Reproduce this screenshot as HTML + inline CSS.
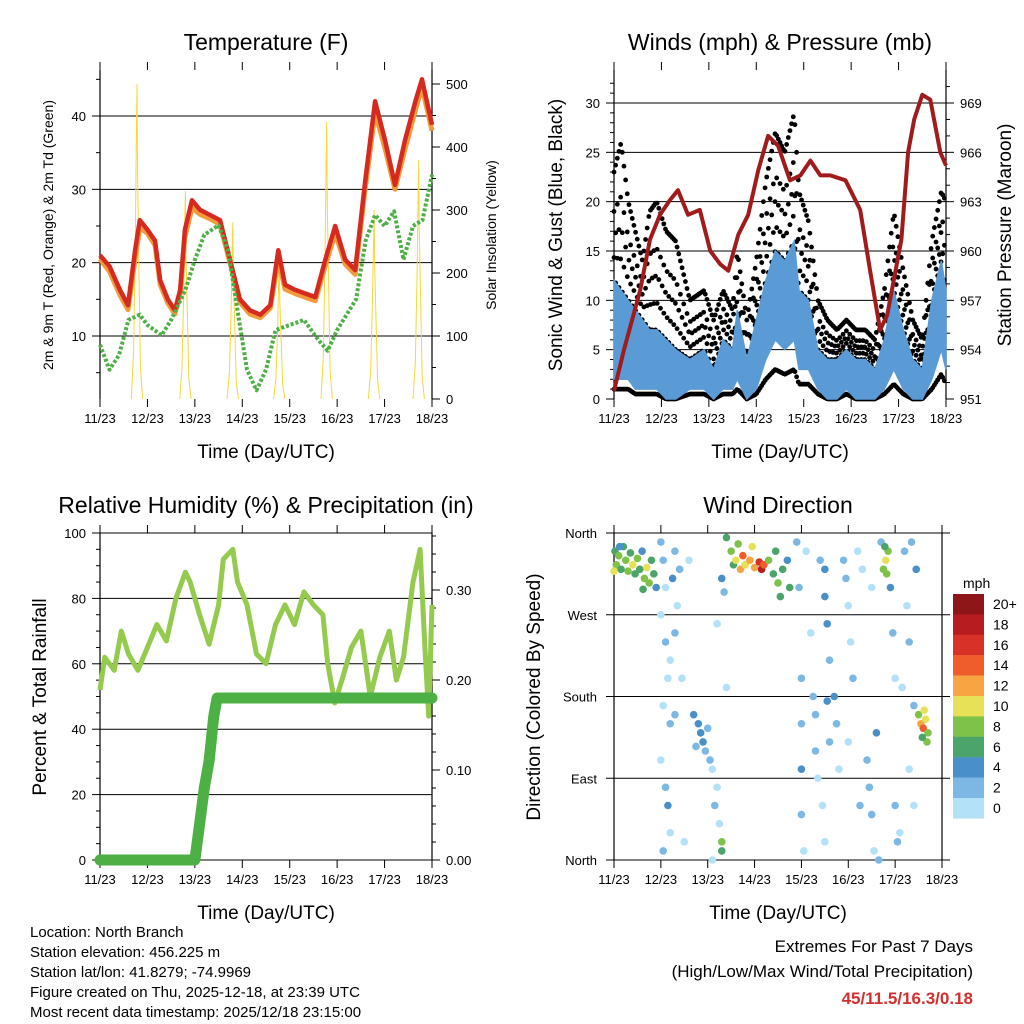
<!DOCTYPE html>
<html><head><meta charset="utf-8"><style>
html,body{margin:0;padding:0;background:#fff}
svg{display:block;font-family:"Liberation Sans",Arial,sans-serif}
</style></head><body>
<svg id="s" width="1024" height="1024" viewBox="0 0 1024 1024" xmlns="http://www.w3.org/2000/svg">
<g id="g"></g>
<g font-size="15" fill="#000">
<text x="30" y="937">Location: North Branch</text>
<text x="30" y="957">Station elevation: 456.225 m</text>
<text x="30" y="977">Station lat/lon: 41.8279; -74.9969</text>
<text x="30" y="997">Figure created on Thu, 2025-12-18, at 23:39 UTC</text>
<text x="30" y="1017">Most recent data timestamp: 2025/12/18 23:15:00</text>
</g>
<g text-anchor="end" font-size="17">
<text x="973" y="952">Extremes For Past 7 Days</text>
<text x="973" y="977">(High/Low/Max Wind/Total Precipitation)</text>
<text x="973" y="1004" fill="#d32f2f" font-weight="bold">45/11.5/16.3/0.18</text>
</g>
</svg>
<script>
// ---------- DATA ----------
const dayLabels=["11/23","12/23","13/23","14/23","15/23","16/23","17/23","18/23"];
const tempDays=[0,0.2,0.42,0.59,0.74,0.84,1.0,1.16,1.27,1.43,1.58,1.69,1.79,1.94,2.11,2.32,2.53,2.74,2.95,3.16,3.38,3.59,3.76,3.9,4.11,4.54,4.75,4.96,5.17,5.38,5.59,5.8,6.01,6.22,6.43,6.65,6.79,7.0];
const temp2m=[21,19.5,16.3,14.2,21.7,25.8,24.5,23,17.6,15,13.5,16.3,24.5,28.5,27.2,26.5,25.8,20.4,15,13.5,12.9,14.2,21.7,17,16.3,15.3,20.4,25,20.4,19,31,42,36.7,30.6,36.7,42,45,38.8];
const temp9m=[20.5,18.8,15.6,13.6,20.5,24.8,24,22.4,17,14.5,13,15.8,23.5,27.5,26.6,26,25.2,20,14.6,13,12.5,13.8,20.5,16.4,15.8,14.8,19.6,24,19.8,18.4,30,40.5,35.6,30,35.5,40.8,44,38];
const dewDays=[0,0.2,0.4,0.6,0.84,1.0,1.3,1.5,1.8,2.0,2.2,2.5,2.7,2.9,3.1,3.3,3.5,3.7,4.0,4.3,4.6,4.8,5.0,5.2,5.4,5.6,5.8,6.0,6.2,6.4,6.6,6.8,7.0];
const dew2m=[8.8,5.4,7.4,12.2,12.9,11.5,10.1,12.2,16.3,20.4,23.8,25.1,21.7,13.5,5.4,2.6,5.4,10.8,11.5,12.2,9.5,8,10.8,12.9,15,23,26.5,25,27,20.4,25,25.8,32];
const solarPeakDays=[0.78,1.8,2.8,3.78,4.78,5.78,6.72];
const solarPeaks=[500,330,280,220,440,300,380];
const presDays=[0,0.21,0.55,0.76,0.97,1.18,1.35,1.56,1.81,2.03,2.24,2.41,2.62,2.83,3.04,3.25,3.46,3.71,3.93,4.14,4.35,4.56,4.88,5.19,5.4,5.61,5.76,6.06,6.2,6.33,6.5,6.67,6.88,7.0];
const pressure=[951.5,954,957.6,960.7,962.2,963.1,963.7,962.2,962.5,960,959.2,958.8,961,962.2,964.9,967,966.4,964.3,964.6,965.5,964.6,964.6,964.3,962.5,958.8,955.2,956.1,960.7,966,968,969.5,969.2,966,965.2];
const windDays=[0,0.15,0.3,0.45,0.6,0.75,0.9,1.1,1.3,1.6,1.9,2.1,2.3,2.5,2.6,2.8,3.0,3.2,3.4,3.6,3.8,3.9,4.1,4.3,4.5,4.7,4.9,5.1,5.3,5.5,5.7,5.9,6.1,6.3,6.5,6.7,6.9,7.0];
const windHigh=[12,11,10,9,8,7,7,6,5,4,5,3,6,5,9,4,8,12,15,14,16,11,10,5,4,4,5,4,4,3,6,11,7,4,3,10,14,11];
const windLow=[2,2,2,1,1,1,1,0,0,1,1,0,1,1,2,0,1,4,6,5,6,3,3,1,0,0,1,0,0,0,1,3,1,0,0,2,5,3];
const windGust=[23,26,20,17,14,19,20,17,16,10,11,8,11,9,15,8,14,22,27,25,29,21,18,10,8,7,8,7,7,6,11,19,13,8,6,16,21,20];
const rhDays=[0,0.1,0.3,0.45,0.6,0.8,1.0,1.2,1.4,1.6,1.8,1.9,2.1,2.3,2.5,2.6,2.8,2.9,3.1,3.3,3.5,3.7,3.9,4.1,4.3,4.5,4.7,4.8,4.95,5.1,5.3,5.5,5.7,5.9,6.1,6.25,6.4,6.6,6.75,6.85,6.93,7.0];
const rh=[52,62,58,70,63,58,65,72,67,80,88,85,75,66,78,92,95,85,78,63,60,72,78,72,82,78,75,60,48,55,65,70,50,62,70,55,62,85,95,65,44,78];
const precipDays=[0,2.0,2.1,2.2,2.3,2.4,2.47,7.0];
const precip=[0,0,0.04,0.08,0.11,0.16,0.18,0.18];
const dirDays=[0.02,0.05,0.1,0.15,0.2,0.25,0.3,0.35,0.4,0.45,0.5,0.55,0.6,0.65,0.7,0.75,0.8,0.85,0.9,0.0,0.12,0.62,
1.0,1.05,1.1,1.0,1.1,1.15,1.05,1.2,1.0,1.1,1.15,1.2,1.05,1.3,1.25,1.35,1.3,1.4,1.45,1.5,1.2,1.3,
1.7,1.8,1.85,1.9,1.95,2.0,2.05,2.1,1.75,2.2,2.15,2.25,2.3,2.3,2.1,1.6,2.3,2.35,2.2,2.4,
2.4,2.5,2.55,2.6,2.7,2.75,2.8,2.9,3.0,3.1,3.15,3.2,3.3,3.4,3.5,3.6,3.7,3.75,2.95,2.65,3.45,3.55,
3.9,3.95,4.0,4.0,4.0,4.0,4.05,4.1,4.2,4.25,4.3,4.3,4.35,4.4,4.5,4.5,4.55,4.6,4.55,4.6,4.45,4.5,4.7,4.75,4.8,4.9,4.95,5.0,5.05,5.1,5.0,5.2,5.3,5.25,5.4,5.45,5.5,5.55,5.6,5.5,5.65,5.7,5.75,5.8,5.85,5.9,5.95,6.0,5.82,5.78,
6.1,6.2,6.25,6.3,6.3,6.4,6.5,6.55,6.6,6.65,6.7,6.62,6.68,6.58,6.4,6.35,6.45,6.0,6.05,6.15];
const dirDeg=[340,325,335,320,345,330,318,338,325,315,332,320,340,310,322,305,330,315,300,318,345,298,
350,330,300,270,240,200,170,150,110,80,60,30,10,340,310,280,250,320,200,20,220,160,
160,150,140,130,120,145,110,100,125,80,60,40,20,10,0,330,310,295,260,190,
355,340,325,330,320,335,325,330,322,328,320,325,330,315,305,320,330,300,345,348,340,290,
350,300,200,150,100,50,10,340,250,180,160,120,90,330,320,290,260,220,175,130,60,20,180,150,100,330,310,280,240,200,130,340,320,60,110,80,50,10,140,300,0,350,320,330,340,300,250,200,315,345,
30,340,280,240,100,170,160,150,145,155,140,165,130,135,60,350,320,60,20,190];
const dirSpeed=[7,8,9,7,6,8,9,7,10,6,8,7,5,9,10,8,6,7,5,11,4,6,
2,3,1,1,2,1,1,3,0,2,4,1,3,2,4,1,3,2,1,1,1,2,
4,5,4,5,3,3,2,1,2,1,2,1,8,7,1,1,4,3,1,1,
7,8,7,10,12,14,11,12,13,16,18,14,8,7,8,6,5,7,10,9,6,7,
3,2,2,3,4,2,1,1,1,2,3,3,1,2,4,5,4,3,4,2,1,1,5,3,1,3,2,1,1,2,1,1,1,2,3,2,2,1,4,1,3,2,8,10,9,4,3,1,9,7,
1,2,1,2,1,3,8,12,14,10,9,10,8,6,1,2,4,3,2,1];
const speedLabels=["20+","18","16","14","12","10","8","6","4","2","0"];
const speedColors=["#8e1518","#b71c21","#d83228","#ef5e2a","#f7a443","#e6e157","#7fc24a","#4ba56a","#4a90c8","#7db8e4","#b3e1f7"];

// ---------- RENDER ----------
const NS="http://www.w3.org/2000/svg";
const root=document.getElementById('g');
function mk(tag,attrs,parent){const e=document.createElementNS(NS,tag);for(const k in attrs)e.setAttribute(k,attrs[k]);(parent||root).appendChild(e);return e;}
function txt(x,y,s,attrs,parent){const e=mk('text',Object.assign({x:x,y:y},attrs),parent);e.textContent=s;return e;}
function lin(d0,d1,p0,p1){return v=>p0+(v-d0)/(d1-d0)*(p1-p0);}
function path(xs,ys,fx,fy){return xs.map((d,i)=>(i?'L':'M')+fx(d).toFixed(1)+','+fy(ys[i]).toFixed(1)).join('');}
function interp(xs,ys,t){for(let i=1;i<xs.length;i++){if(t<=xs[i]){const f=(t-xs[i-1])/(xs[i]-xs[i-1]||1);return ys[i-1]+f*(ys[i]-ys[i-1]);}}return ys[ys.length-1];}

function frame(P,name){
  const g=mk('g',{});
  
  
  mk('line',{x1:P.x0,y1:P.y0,x2:P.x0,y2:P.y1,stroke:'#000','stroke-width':1.2},g);
  mk('line',{x1:P.x1,y1:P.y0,x2:P.x1,y2:P.y1,stroke:'#000','stroke-width':1.2},g);
  const fx=lin(0,7,P.x0,P.x1);
  for(let i=0;i<8;i++){const x=fx(i);
    mk('line',{x1:x,y1:P.y1,x2:x,y2:P.y1+8,stroke:'#000'},g);
    mk('line',{x1:x,y1:P.y0,x2:x,y2:P.y0-8,stroke:'#000'},g);
    const t=txt(x,P.y1+24,dayLabels[i],{'font-size':13,'text-anchor':'middle'},g);
    
    
  }
  const xt=txt((P.x0+P.x1)/2,P.y1+59,'Time (Day/UTC)',{'font-size':19,'text-anchor':'middle'},g);
  
  
  const tt=txt((P.x0+P.x1)/2,P.y0-20,P.title,{'font-size':23,'text-anchor':'middle'},g);
  
  
  return fx;
}
function grid(P,vals,fy){vals.forEach(v=>{const y=fy(v);const l=mk('line',{x1:P.gx0||P.x0,y1:y,x2:P.gx1||P.x1,y2:y,stroke:'#000','stroke-width':1});});}
function yTicks(x,vals,fy,labels,side,fs,minor){
  const g=mk('g',{});
  
  
  const dir=side==='left'?-1:1;
  vals.forEach((v,i)=>{const y=fy(v);mk('line',{x1:x,y1:y,x2:x+dir*8,y2:y,stroke:'#000'},g);
    txt(x+dir*14,y+5,labels[i],{'font-size':fs||13,'text-anchor':side==='left'?'end':'start'},g);});
  (minor||[]).forEach(v=>{const y=fy(v);mk('line',{x1:x,y1:y,x2:x+dir*4,y2:y,stroke:'#000'},g);});
}
function yTitle(x,y,s,fs,name){const t=txt(0,0,s,{'font-size':fs,'text-anchor':'middle',transform:`translate(${x},${y}) rotate(-90)`});}
function range(a,b,s){const r=[];for(let v=a;v<=b+1e-9;v+=s)r.push(+v.toFixed(3));return r;}

// ---- Panel 1: temperature ----
{
const P={x0:100,x1:432,y0:70,y1:399,title:'Temperature (F)'};
const fx=frame(P,'temperature');
const fy=lin(10,40,336,116), fs=lin(0,500,399,84);
grid(P,[10,20,30,40],fy);
yTicks(P.x0,[10,20,30,40],fy,['10','20','30','40'],'left',13,range(5,45,5).filter(v=>v%10));
yTicks(P.x1,range(0,500,100),fs,['0','100','200','300','400','500'],'right',13,range(50,450,100));
yTitle(53,235,'2m & 9m T (Red, Orange) & 2m Td (Green)',14,'left-y-axis-title');
yTitle(496,235,'Solar Insolation (Yellow)',14,'right-y-axis-title');
const sg=mk('g',{});
solarPeakDays.forEach((pd,i)=>{const w=0.12;let d='';
  const pts=[[-w,0],[-w*0.6,0.15],[-w*0.3,0.5],[-w*0.1,0.85],[0,1],[w*0.1,0.7],[w*0.35,0.4],[w*0.6,0.1],[w,0]];
  pts.forEach((p,j)=>{d+=(j?'L':'M')+fx(pd+p[0]).toFixed(1)+','+fs(solarPeaks[i]*p[1]).toFixed(1);});
  mk('path',{d:d,fill:'none',stroke:'#f5d83a','stroke-width':1},sg);});
const o=mk('path',{d:path(tempDays,temp9m,fx,fy),fill:'none',stroke:'#f39a3a','stroke-width':5,'stroke-linejoin':'round'});

const r=mk('path',{d:path(tempDays,temp2m,fx,fy),fill:'none',stroke:'#d42a20','stroke-width':4.5,'stroke-linejoin':'round'});

const gg=mk('path',{d:path(dewDays,dew2m,fx,fy),fill:'none',stroke:'#4cb044','stroke-width':4,'stroke-dasharray':'3 2','stroke-linejoin':'round'});

}

// ---- Panel 2: winds & pressure ----
{
const P={x0:614,x1:946,y0:70,y1:399,title:'Winds (mph) & Pressure (mb)'};
const fx=frame(P,'winds');
const fy=lin(0,30,399,103), fp=lin(951,969,399,103);
grid(P,[5,10,15,20,25,30],fy);
yTicks(P.x0,[0,5,10,15,20,25,30],fy,['0','5','10','15','20','25','30'],'left',13,range(1,32,1).filter(v=>v%5));
yTicks(P.x1,[951,954,957,960,963,966,969],fp,['951','954','957','960','963','966','969'],'right',13,range(952,970,1).filter(v=>(v-951)%3));
yTitle(562,235,'Sonic Wind & Gust (Blue, Black)',19,'left-y-axis-title');
yTitle(1011,235,'Station Pressure (Maroon)',19,'right-y-axis-title');
const dots=mk('g',{});
const fracs=[0,0.25,0.5,0.75,1];
let k=0;
for(let t=0;t<=7;t+=0.035){k++;const hv=interp(windDays,windHigh,t),gv=interp(windDays,windGust,t),lv=interp(windDays,windLow,t);
  mk('circle',{cx:fx(t),cy:fy(lv*0.5),r:2.4,fill:'#000'},dots);
  fracs.forEach((f,j)=>{if((j+k)%2===0||f===1){const v=hv+(gv-hv)*f*(f===1?1:0.85);mk('circle',{cx:fx(t),cy:fy(v),r:2.4,fill:'#000'},dots);}});}
const hi=windDays.map((d,i)=>fx(d).toFixed(1)+','+fy(windHigh[i]).toFixed(1));
const lo=windDays.map((d,i)=>fx(d).toFixed(1)+','+fy(windLow[i]).toFixed(1)).reverse();
const ba=mk('polygon',{points:hi.concat(lo).join(' '),fill:'#5b9bd5',stroke:'#5b9bd5','stroke-width':1.5});

const pr=mk('path',{d:path(presDays,pressure,fx,fp),fill:'none',stroke:'#a01c1c','stroke-width':4,'stroke-linejoin':'round'});

}

// ---- Panel 3: RH & precip ----
{
const P={x0:100,x1:432,y0:533,y1:860,title:'Relative Humidity (%) & Precipitation (in)'};
const fx=frame(P,'humidity');
const fy=lin(0,100,860,533), fr=lin(0,0.3,860,590);
grid(P,[0,20,40,60,80,100],fy);
yTicks(P.x0,[0,20,40,60,80,100],fy,['0','20','40','60','80','100'],'left',13,range(5,95,5).filter(v=>v%20));
yTicks(P.x1,[0,0.1,0.2,0.3],fr,['0.00','0.10','0.20','0.30'],'right',13,range(0.02,0.36,0.02).filter(v=>Math.round(v*100)%10));
yTitle(46,697,'Percent & Total Rainfall',19,'left-y-axis-title');
const h=mk('path',{d:path(rhDays,rh,fx,fy),fill:'none',stroke:'#94ca4e','stroke-width':5,'stroke-linejoin':'round'});

const p=mk('path',{d:path(precipDays,precip,fx,fr),fill:'none',stroke:'#4cb044','stroke-width':11,'stroke-linecap':'round','stroke-linejoin':'round'});

}

// ---- Panel 4: wind direction ----
{
const P={x0:614,x1:942,y0:533,y1:860,gx0:606,gx1:950,title:'Wind Direction'};
const fx=frame(P,'wind-direction');
const fy=lin(0,360,860,533);
grid(P,[0,90,180,270,360],fy);
const lab=['North','East','South','West','North'];
[0,90,180,270,360].forEach((v,i)=>{const t=txt(597,fy(v)+5,lab[i],{'font-size':13,'text-anchor':'end'});});
yTitle(540,697,'Direction (Colored By Speed)',19,'left-y-axis-title');
const pg=mk('g',{});
dirDays.forEach((d,i)=>{const b=Math.min(10,Math.floor(dirSpeed[i]/2));
  mk('circle',{cx:fx(d),cy:fy(dirDeg[i]),r:3.8,fill:speedColors[10-b]},pg);});
const cb=mk('g',{});
txt(963,588,'mph',{'font-size':14},cb);
speedColors.forEach((c,i)=>{mk('rect',{x:953,y:594+i*20.4,width:31,height:20.6,fill:c},cb);
  txt(993,594+i*20.4+15,speedLabels[i],{'font-size':14},cb);});
}
</script>
</body></html>
